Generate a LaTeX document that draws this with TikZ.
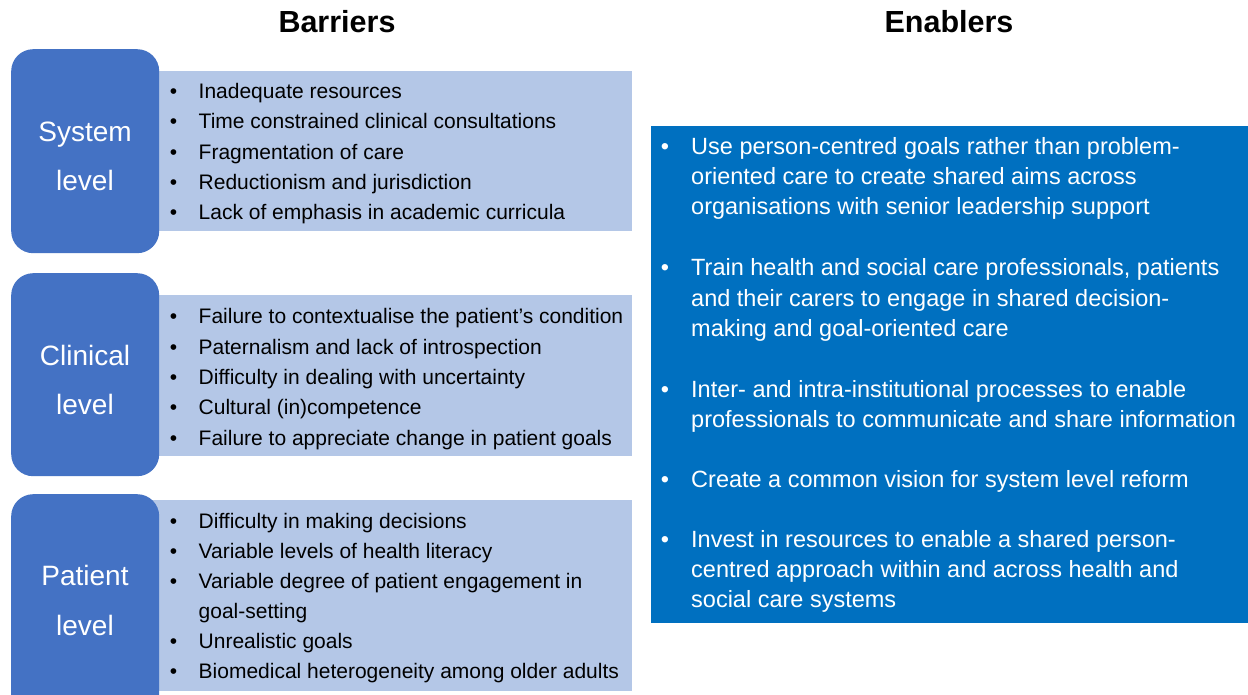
\documentclass[tikz,border=0pt]{standalone}
\usepackage{fontspec}
\setmainfont{Liberation Sans}
\definecolor{lvlblue}{HTML}{4472C4}
\definecolor{bandblue}{HTML}{B4C7E7}
\definecolor{enblue}{HTML}{0070C0}
\tikzset{
  lvlbox/.style={fill=lvlblue, draw=none, rounded corners=22pt, anchor=north west, inner sep=0, minimum width=148pt},
  bandbox/.style={fill=bandblue, draw=none, anchor=north west, inner sep=0, minimum width=482pt},
  enbox/.style={fill=enblue, draw=none, anchor=north west, inner sep=0, minimum width=597pt, minimum height=497pt},
  btxt/.style={anchor=base west, inner sep=0, text=black, font=\fontsize{21}{25}\selectfont},
  bdot/.style={anchor=base, inner sep=0, text=black, font=\fontsize{21}{25}\selectfont},
  etxt/.style={anchor=base west, inner sep=0, text=white, font=\fontsize{23.5}{28}\selectfont},
  edot/.style={anchor=base, inner sep=0, text=white, font=\fontsize{23.5}{28}\selectfont},
  lbl/.style={anchor=base, inner sep=0, text=white, font=\fontsize{28}{32}\selectfont},
  ttl/.style={anchor=base, inner sep=0, text=black, font=\bfseries\fontsize{30.5}{34}\selectfont}
}
\begin{document}
\begin{tikzpicture}[x=1pt,y=-1pt]
\useasboundingbox (0,0) rectangle (1248,695);
\fill[white] (0,0) rectangle (1248,695);
% titles
\node[ttl] (tbar) at (337,33) {Barriers};
\node[ttl] (tena) at (949,33) {Enablers};
% bands
\node[bandbox, minimum height=160pt] (sband) at (150,71) {};
\node[bandbox, minimum height=161pt] (cband) at (150,295) {};
\node[bandbox, minimum height=191pt] (pband) at (150,500) {};
% level boxes
\begin{scope}
\clip (0,0) rectangle (1248,695);
\node[lvlbox, minimum height=204pt] (sbox) at (11,49) {};
\node[lvlbox, minimum height=203pt] (cbox) at (11,273) {};
\node[lvlbox, minimum height=230pt] (pbox) at (11,494) {};
\end{scope}
\node[lbl] (sl1) at (85,141.5) {System};
\node[lbl] (sl2) at (85,191) {level};
\node[lbl] (cl1) at (85,365) {Clinical};
\node[lbl] (cl2) at (85,414) {level};
\node[lbl] (pl1) at (85,585) {Patient};
\node[lbl] (pl2) at (85,635) {level};
% system items
\node[bdot] (sd1) at (173.5,99) {•};
\node[btxt] (st1) at (198.5,99) {Inadequate resources};
\node[bdot] (sd2) at (173.5,129) {•};
\node[btxt] (st2) at (198.5,129) {Time constrained clinical consultations};
\node[bdot] (sd3) at (173.5,159.5) {•};
\node[btxt] (st3) at (198.5,159.5) {Fragmentation of care};
\node[bdot] (sd4) at (173.5,189.5) {•};
\node[btxt] (st4) at (198.5,189.5) {Reductionism and jurisdiction};
\node[bdot] (sd5) at (173.5,220) {•};
\node[btxt] (st5) at (198.5,220) {Lack of emphasis in academic curricula};
% clinical items
\node[bdot] (cd1) at (173.5,323.5) {•};
\node[btxt] (ct1) at (198.5,323.5) {Failure to contextualise the patient’s condition};
\node[bdot] (cd2) at (173.5,354) {•};
\node[btxt] (ct2) at (198.5,354) {Paternalism and lack of introspection};
\node[bdot] (cd3) at (173.5,384.5) {•};
\node[btxt] (ct3) at (198.5,384.5) {Difficulty in dealing with uncertainty};
\node[bdot] (cd4) at (173.5,414.5) {•};
\node[btxt] (ct4) at (198.5,414.5) {Cultural (in)competence};
\node[bdot] (cd5) at (173.5,445) {•};
\node[btxt] (ct5) at (198.5,445) {Failure to appreciate change in patient goals};
% patient items
\node[bdot] (pd1) at (173.5,528.5) {•};
\node[btxt] (pt1) at (198.5,528.5) {Difficulty in making decisions};
\node[bdot] (pd2) at (173.5,558.5) {•};
\node[btxt] (pt2) at (198.5,558.5) {Variable levels of health literacy};
\node[bdot] (pd3) at (173.5,588.5) {•};
\node[btxt] (pt3) at (198.5,588.5) {Variable degree of patient engagement in};
\node[btxt] (pt3b) at (198.5,618.5) {goal-setting};
\node[bdot] (pd4) at (173.5,648.5) {•};
\node[btxt] (pt4) at (198.5,648.5) {Unrealistic goals};
\node[bdot] (pd5) at (173.5,678.5) {•};
\node[btxt] (pt5) at (198.5,678.5) {Biomedical heterogeneity among older adults};
% enablers
\node[enbox] (ebox) at (651,126) {};
\node[edot] (ed1) at (665,155) {•};
\node[etxt] (e1a) at (691,155) {Use person-centred goals rather than problem-};
\node[etxt] (e1b) at (691,185) {oriented care to create shared aims across};
\node[etxt] (e1c) at (691,215) {organisations with senior leadership support};
\node[edot] (ed2) at (665,276) {•};
\node[etxt] (e2a) at (691,276) {Train health and social care professionals, patients};
\node[etxt] (e2b) at (691,306) {and their carers to engage in shared decision-};
\node[etxt] (e2c) at (691,336) {making and goal-oriented care};
\node[edot] (ed3) at (665,397) {•};
\node[etxt] (e3a) at (691,397) {Inter- and intra-institutional processes to enable};
\node[etxt] (e3b) at (691,427) {professionals to communicate and share information};
\node[edot] (ed4) at (665,487) {•};
\node[etxt] (e4a) at (691,487) {Create a common vision for system level reform};
\node[edot] (ed5) at (665,547) {•};
\node[etxt] (e5a) at (691,547) {Invest in resources to enable a shared person-};
\node[etxt] (e5b) at (691,577) {centred approach within and across health and};
\node[etxt] (e5c) at (691,607) {social care systems};
\end{tikzpicture}
\end{document}
